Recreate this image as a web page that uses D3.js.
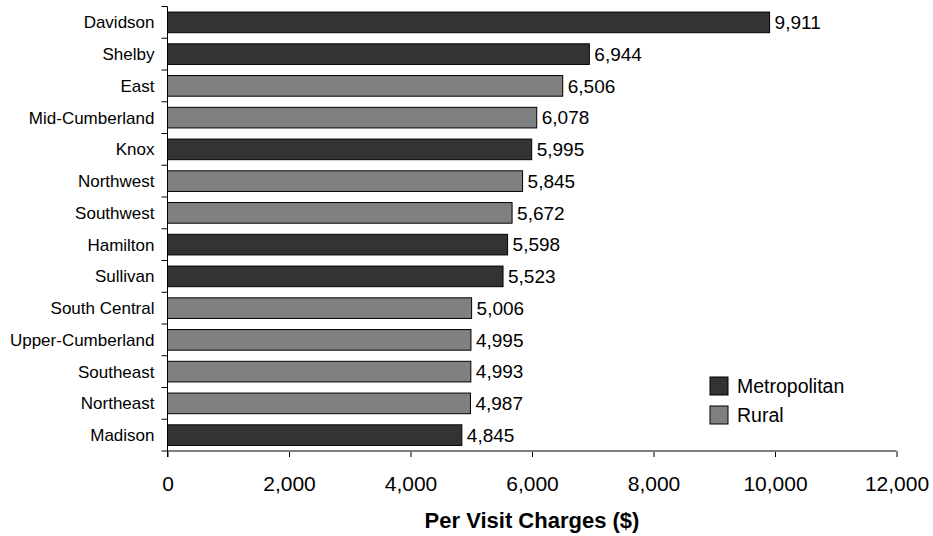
<!DOCTYPE html>
<html>
<head>
<meta charset="utf-8">
<script src="https://cdn.jsdelivr.net/npm/d3@7"></script>
<style>
  html, body { margin: 0; padding: 0; background: #fff; }
  svg { display: block; font-family: "Liberation Sans", Arial, sans-serif; }
</style>
</head>
<body>
<svg id="chart" width="933" height="536"></svg>
<script>
// Per-visit charges by region, sorted high to low
const regions = ["Davidson", "Shelby", "East", "Mid-Cumberland", "Knox", "Northwest", "Southwest",
  "Hamilton", "Sullivan", "South Central", "Upper-Cumberland", "Southeast", "Northeast", "Madison"];
const charges = [9911, 6944, 6506, 6078, 5995, 5845, 5672, 5598, 5523, 5006, 4995, 4993, 4987, 4845];
const regionType = ["Metropolitan", "Metropolitan", "Rural", "Rural", "Metropolitan", "Rural", "Rural",
  "Metropolitan", "Metropolitan", "Rural", "Rural", "Rural", "Rural", "Metropolitan"];
const legendTypes = ["Metropolitan", "Rural"];
const xTicks = [0, 2000, 4000, 6000, 8000, 10000, 12000];
const axisTitle = "Per Visit Charges ($)";

const rows = regions.map((r, i) => ({ region: r, value: charges[i], type: regionType[i] }));

const svg = d3.select("#chart");
const plotLeft = 167.5, plotRight = 896.5, plotTop = 6.5, plotBottom = 451;

const x = d3.scaleLinear().domain([0, 12000]).range([plotLeft, plotRight]);
const y = d3.scaleBand().domain(regions).range([plotTop, plotBottom]).paddingInner(0.35).paddingOuter(0.175);
const color = d3.scaleOrdinal().domain(legendTypes).range(["#333333", "#808080"]);
const fmt = d3.format(",");

// Bars
svg.append("g").selectAll("rect").data(rows).join("rect")
  .attr("x", x(0))
  .attr("y", d => y(d.region))
  .attr("width", d => x(d.value) - x(0))
  .attr("height", y.bandwidth())
  .attr("fill", d => color(d.type))
  .attr("stroke", "#000")
  .attr("stroke-width", 1);

// Value labels
svg.append("g").selectAll("text").data(rows).join("text")
  .attr("x", d => x(d.value) + 5)
  .attr("y", d => y(d.region) + y.bandwidth() / 2)
  .attr("dy", "0.36em")
  .attr("font-size", 19)
  .attr("fill", "#000")
  .text(d => fmt(d.value));

// X axis
const xAxis = svg.append("g").attr("transform", `translate(0,${plotBottom})`)
  .call(d3.axisBottom(x).tickValues(xTicks).tickFormat(fmt).tickSize(6).tickSizeOuter(0).tickPadding(19));
xAxis.select(".domain").remove();
xAxis.append("line").attr("x1", plotLeft - 6).attr("x2", plotRight).attr("stroke", "#808080").attr("stroke-width", 2);
xAxis.selectAll(".tick line").attr("stroke", "#000");
xAxis.selectAll(".tick text").attr("font-size", 21).attr("fill", "#000")
  .attr("font-family", "Liberation Sans, Arial, sans-serif");

// Y axis with ticks between categories
const yAxis = svg.append("g").attr("transform", `translate(${plotLeft},0)`);
yAxis.append("line").attr("y1", plotTop).attr("y2", plotBottom + 6).attr("stroke", "#000").attr("stroke-width", 1);
const step = y.step();
const boundaries = d3.range(regions.length).map(i => plotTop + i * step);
yAxis.selectAll("line.sep").data(boundaries).join("line").attr("class", "sep")
  .attr("x1", -6).attr("x2", 0).attr("y1", d => d).attr("y2", d => d).attr("stroke", "#000");
yAxis.selectAll("text").data(regions).join("text")
  .attr("x", -13)
  .attr("y", d => y(d) + y.bandwidth() / 2)
  .attr("dy", "0.36em")
  .attr("text-anchor", "end")
  .attr("font-size", 17)
  .attr("fill", "#000")
  .text(d => d);

// Axis title
svg.append("text")
  .attr("x", (plotLeft + plotRight) / 2)
  .attr("y", 528)
  .attr("text-anchor", "middle")
  .attr("font-size", 22)
  .attr("font-weight", "bold")
  .text(axisTitle);

// Legend
const legend = svg.append("g").selectAll("g").data(legendTypes).join("g")
  .attr("transform", (d, i) => `translate(710,${377 + i * 29})`);
legend.append("rect").attr("width", 18).attr("height", 18)
  .attr("fill", d => color(d)).attr("stroke", "#000").attr("stroke-width", 1);
legend.append("text").attr("x", 27).attr("y", 9).attr("dy", "0.36em")
  .attr("font-size", 19.5).text(d => d);
</script>
</body>
</html>
